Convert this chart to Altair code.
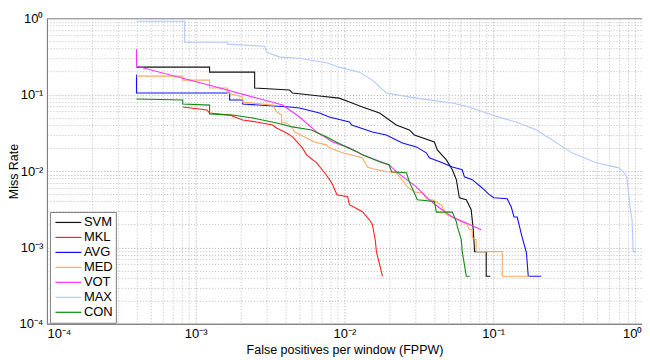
import altair as alt
import pandas as pd

SERIES = ["SVM", "MKL", "AVG", "MED", "VOT", "MAX", "CON"]
COLORS = ["#111111", "#ff2020", "#1010ff", "#ffa860", "#ff30ff", "#b4c8ff", "#108a10"]

SVM_x = [4.0e-4, 1.24e-3, 1.24e-3, 2.49e-3, 2.49e-3, 4.28e-3, 4.47e-3, 6.79e-3, 9.2e-3, 0.0108, 0.0132,
         0.0172, 0.0223, 0.0273, 0.0295, 0.0402, 0.0421, 0.0484, 0.0531, 0.0565, 0.0592, 0.0659, 0.0711,
         0.0734, 0.075, 0.0897, 0.0897, 0.0955]
SVM_y = [0.229, 0.229, 0.197, 0.197, 0.122, 0.115, 0.105, 0.096, 0.090, 0.080, 0.069,
         0.0575, 0.040, 0.0345, 0.0297, 0.024, 0.0189, 0.014, 0.0104, 0.0077, 0.00447, 0.0042, 0.00311,
         0.0017, 0.00088, 0.00088, 0.00042, 0.00042]

MKL_x = [8.18e-4, 1.19e-3, 1.24e-3, 1.69e-3, 2.07e-3, 2.56e-3, 3.29e-3, 3.5e-3, 4.08e-3, 4.47e-3, 5.22e-3,
         5.56e-3, 6.5e-3, 7.35e-3, 7.95e-3, 8.33e-3, 8.9e-3, 0.0105, 0.0108, 0.0132, 0.0147, 0.0154, 0.0161,
         0.0164, 0.018]
MKL_y = [0.069, 0.063, 0.0575, 0.054, 0.0466, 0.0439, 0.040, 0.0366, 0.0315, 0.028, 0.0201,
         0.0163, 0.0128, 0.0095, 0.0077, 0.0066, 0.0049, 0.0046, 0.00362, 0.00293, 0.0023, 0.002, 0.00126,
         0.00088, 0.00042]

AVG_x = [4.0e-4, 4.0e-4, 1.69e-3, 1.69e-3, 2.07e-3, 2.07e-3, 4.28e-3, 4.99e-3, 6.79e-3, 7.9e-3, 0.0108,
         0.0112, 0.0154, 0.0191, 0.0245, 0.0304, 0.0355, 0.0372, 0.0455, 0.0531, 0.0619, 0.064, 0.0723,
         0.0843, 0.094, 0.101, 0.124, 0.132, 0.138, 0.145, 0.156, 0.167, 0.172, 0.21]
AVG_y = [0.183, 0.105, 0.105, 0.085, 0.085, 0.0754, 0.069, 0.0668, 0.0575, 0.051, 0.0439,
         0.040, 0.0325, 0.0297, 0.0233, 0.0207, 0.0173, 0.0149, 0.0128, 0.0113, 0.0104, 0.0084, 0.0077,
         0.006, 0.0049, 0.00447, 0.00434, 0.0034, 0.0025, 0.0025, 0.00138, 0.00086, 0.00042, 0.00042]

MED_x = [4.0e-4, 8.18e-4, 8.18e-4, 1.24e-3, 1.24e-3, 1.64e-3, 1.64e-3, 2.07e-3, 2.07e-3, 3.29e-3, 3.5e-3,
         3.78e-3, 3.78e-3, 4.08e-3, 4.47e-3, 4.62e-3, 5.56e-3, 6.3e-3, 7.56e-3, 7.95e-3, 9.7e-3, 0.0132,
         0.0143, 0.0154, 0.0195, 0.0223, 0.0265, 0.0295, 0.0333, 0.0361, 0.039, 0.0448, 0.0484, 0.0531,
         0.061, 0.0668, 0.0694, 0.0723, 0.0723, 0.0768, 0.0768, 0.115, 0.115, 0.175]
MED_y = [0.175, 0.175, 0.155, 0.155, 0.122, 0.122, 0.105, 0.093, 0.080, 0.073, 0.0593,
         0.054, 0.0426, 0.0426, 0.0366, 0.0325, 0.0271, 0.024, 0.022, 0.0201, 0.0173, 0.0149,
         0.0113, 0.0107, 0.0098, 0.0095, 0.0062, 0.0053, 0.0052, 0.0042, 0.0042, 0.0036, 0.0027, 0.0025,
         0.00217, 0.002, 0.0017, 0.0017, 0.00134, 0.00126, 0.00088, 0.00088, 0.00042, 0.00042]

VOT_x = [4.0e-4, 4.0e-4, 1.24e-3, 3.84e-3, 4.99e-3, 6.5e-3, 8.33e-3, 0.0108, 0.0132, 0.02, 0.0223,
         0.0304, 0.0372, 0.0434, 0.0531, 0.0694, 0.083]
VOT_y = [0.394, 0.236, 0.133, 0.073, 0.051, 0.0325, 0.024, 0.0201, 0.0163, 0.012, 0.0098,
         0.0062, 0.0042, 0.0033, 0.0025, 0.002, 0.0017]

MAX_x = [4.0e-4, 8.43e-4, 8.43e-4, 1.64e-3, 1.64e-3, 2.9e-3, 3.0e-3, 3.66e-3, 4.99e-3, 7.69e-3, 9.2e-3,
         0.0126, 0.0154, 0.0191, 0.0304, 0.0531, 0.069, 0.0984, 0.149, 0.195, 0.249, 0.339, 0.491, 0.70,
         0.757, 0.79, 0.83, 0.857, 0.872, 0.912]
MAX_y = [0.914, 0.914, 0.486, 0.486, 0.458, 0.431, 0.36, 0.31, 0.30, 0.259, 0.229,
         0.197, 0.155, 0.105, 0.090, 0.0777, 0.069, 0.054, 0.0426, 0.0345, 0.0255, 0.0173, 0.0128, 0.011,
         0.0095, 0.0084, 0.0034, 0.0023, 0.00088, 0.00088]

CON_x = [4.0e-4, 8.18e-4, 8.18e-4, 1.24e-3, 1.24e-3, 1.77e-3, 2.42e-3, 3.5e-3, 4.47e-3, 6.0e-3, 6.6e-3,
         7.56e-3, 8.8e-3, 0.0103, 0.0122, 0.0132, 0.0172, 0.02, 0.0207, 0.0261, 0.0273, 0.0309, 0.0402,
         0.0415, 0.0531, 0.0565, 0.0574, 0.061, 0.0619, 0.0659, 0.0694]
CON_y = [0.0876, 0.085, 0.0754, 0.073, 0.0558, 0.054, 0.0495, 0.0426, 0.0378, 0.0345, 0.0315,
         0.028, 0.024, 0.0207, 0.0178, 0.0163, 0.0132, 0.012, 0.0098, 0.0095, 0.0072, 0.0042, 0.004,
         0.0029, 0.0029, 0.00217, 0.00187, 0.00126, 0.00088, 0.00042, 0.00042]

DECADE_LABELS = ["10⁻⁴", "10⁻³", "10⁻²", "10⁻¹", "10⁰"]
TICKS = [k * 10.0 ** e for e in range(-4, 0) for k in range(1, 10)] + [1.0]

series_data = {
    "SVM": (SVM_x, SVM_y), "MKL": (MKL_x, MKL_y), "AVG": (AVG_x, AVG_y), "MED": (MED_x, MED_y),
    "VOT": (VOT_x, VOT_y), "MAX": (MAX_x, MAX_y), "CON": (CON_x, CON_y),
}
rows = []
for name in SERIES:
    xs, ys = series_data[name]
    for i, (a, b) in enumerate(zip(xs, ys)):
        rows.append({"series": name, "i": i, "x": a, "y": b})
df = pd.DataFrame(rows)

lg = "log(datum.value)/LN10"
is_dec = f"abs({lg} - round({lg})) < 1e-6"
arr = "[" + ",".join(f"'{s}'" for s in DECADE_LABELS) + "]"
label_expr = f"({is_dec}) ? {arr}[round({lg})+4] : ''"

grid_color = {"condition": {"test": is_dec, "value": "#a8a8a8"}, "value": "#bcbcbc"}

x_axis = alt.Axis(values=TICKS, labelExpr=label_expr, labelOverlap=False, title="False positives per window (FPPW)",
                  gridColor=grid_color, titleY=30, titleBaseline="alphabetic")
y_axis = alt.Axis(values=TICKS, labelExpr=label_expr, labelOverlap=False, title="Miss Rate",
                  gridColor=grid_color, titleX=-26, titleBaseline="bottom", titleAngle=270, titleAlign="center")

chart = alt.Chart(df).mark_line(strokeWidth=1.1, clip=True).encode(
    x=alt.X("x:Q", scale=alt.Scale(type="log", domain=[1e-4, 1]), axis=x_axis),
    y=alt.Y("y:Q", scale=alt.Scale(type="log", domain=[1e-4, 1]), axis=y_axis),
    color=alt.Color("series:N", scale=alt.Scale(domain=SERIES, range=COLORS),
                    legend=alt.Legend(title=None, orient="none", legendX=3, legendY=194,
                                      symbolType="M-2,0H2", symbolSize=169, symbolStrokeWidth=1.2,
                                      symbolOffset=8,
                                      labelFont="Liberation Sans", labelFontSize=13, labelColor="black",
                                      labelExpr="datum.label + '\u00a0\u00a0\u00a0\u00a0\u00a0\u00a0'",
                                      strokeColor="#808080", fillColor="white", padding=3,
                                      rowPadding=0, labelOffset=8)),
    order="i:Q",
).properties(
    width=596, height=306,
    padding={"left": 39, "top": 10, "right": 0, "bottom": 36},
    autosize=alt.AutoSizeParams(type="none"),
).configure_axis(
    domainColor="#808080", labelFont="Liberation Sans", labelFontSize=13, labelColor="black",
    titleFont="Liberation Sans", titleFontSize=12.5, titleFontWeight="normal", titleColor="black",
    gridDash=[1, 2], gridWidth=1, ticks=False, labelPadding=4,
).configure_view(stroke="#808080")

chart.save("out.html", embed_options={"renderer": "svg", "actions": False})
